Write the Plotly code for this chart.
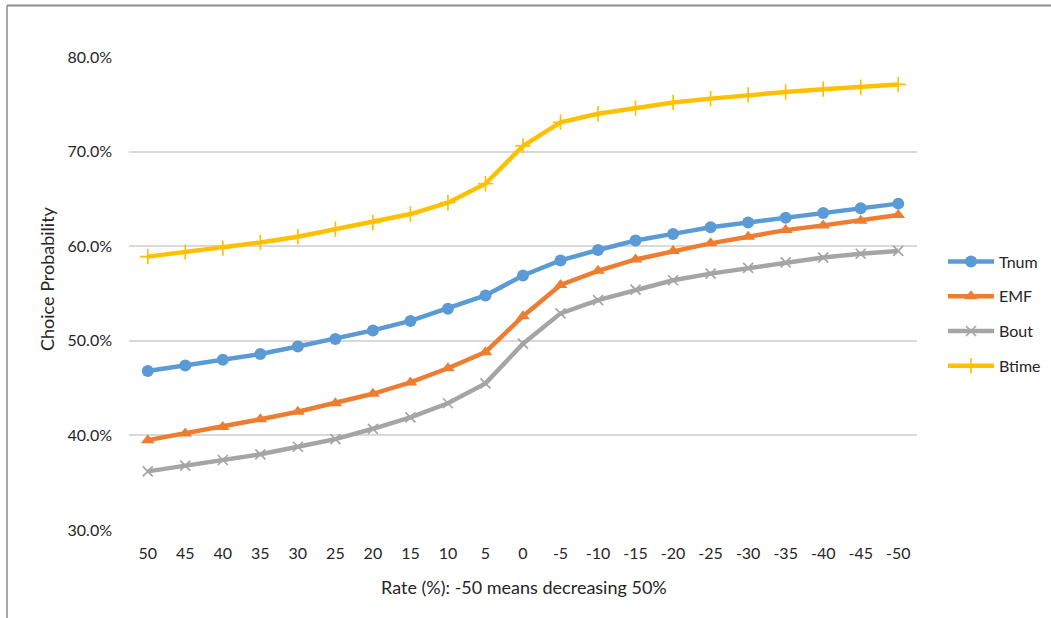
import plotly.graph_objects as go

# Rate change categories (x axis, left to right)
rates = ["50", "45", "40", "35", "30", "25", "20", "15", "10", "5", "0",
         "-5", "-10", "-15", "-20", "-25", "-30", "-35", "-40", "-45", "-50"]

# Choice probability (%) per model
tnum = [46.8, 47.4, 48.0, 48.6, 49.4, 50.2, 51.1, 52.1, 53.4, 54.8, 56.9,
        58.5, 59.6, 60.6, 61.3, 62.0, 62.5, 63.0, 63.5, 64.0, 64.5]
emf = [39.5, 40.2, 40.9, 41.7, 42.5, 43.4, 44.4, 45.6, 47.1, 48.8, 52.6,
       55.9, 57.4, 58.6, 59.5, 60.3, 61.0, 61.7, 62.2, 62.7, 63.3]
bout = [36.2, 36.8, 37.4, 38.0, 38.8, 39.6, 40.7, 41.9, 43.4, 45.5, 49.7,
        52.9, 54.3, 55.4, 56.4, 57.1, 57.7, 58.3, 58.8, 59.2, 59.5]
btime = [58.9, 59.4, 59.8, 60.4, 61.0, 61.8, 62.5, 63.4, 64.6, 66.6, 70.6,
         73.1, 74.0, 74.6, 75.2, 75.6, 76.0, 76.3, 76.6, 76.8, 77.1]

series = [
    ("Tnum", tnum, "#5B9BD5", dict(symbol="circle", size=12)),
    ("EMF", emf, "#ED7D31", dict(symbol="triangle-up", size=12)),
    ("Bout", bout, "#A5A5A5", dict(symbol="x-thin", size=10, line=dict(width=1.7, color="#A5A5A5"))),
    ("Btime", btime, "#FFC000", dict(symbol="cross-thin", size=11, line=dict(width=1.7, color="#FFC000"))),
]

FONT = "Lato, 'Open Sans', sans-serif"
TXT = "#262626"

fig = go.Figure()
for name, vals, color, mk in series:
    fig.add_trace(go.Scatter(
        x=rates, y=vals, name=name, mode="lines+markers",
        line=dict(color=color, width=4.5),
        marker=dict(color=color, **mk),
        legendgroup=name,
    ))

W, H = 1051, 618
L, R, T, B = 129, 134, 57, 88
pw, ph = W - L - R, H - T - B


def px_x(p):
    return (p - L) / pw


def px_y(p):
    return (H - B - p) / ph


fig.update_layout(
    width=W, height=H,
    margin=dict(l=L, r=R, t=T, b=B),
    paper_bgcolor="white", plot_bgcolor="white",
    font=dict(family=FONT, size=16, color=TXT),
    showlegend=True,
    legend=dict(
        xref="container", yref="container",
        x=943 / W, xanchor="left", y=1 - 314 / H, yanchor="middle",
        font=dict(family=FONT, size=16, color=TXT),
        traceorder="grouped", tracegroupgap=11, itemwidth=46,
        bgcolor="rgba(0,0,0,0)",
    ),
    xaxis=dict(
        type="category", range=[-0.5, 20.5],
        showgrid=False, showline=False, zeroline=False,
        ticks="", ticklabelstandoff=12,
        tickfont=dict(family=FONT, size=16, color=TXT),
    ),
    yaxis=dict(
        range=[30, 80], dtick=10, tick0=30,
        tickformat=".1f", ticksuffix="%",
        showgrid=True, gridcolor="#D9D9D9", gridwidth=1.5,
        showline=False, zeroline=False,
        ticks="", ticklabelstandoff=16,
        tickfont=dict(family=FONT, size=16, color=TXT),
    ),
    annotations=[
        dict(text="Rate (%): -50 means decreasing 50%", xref="paper", yref="paper",
             x=px_x(524), y=px_y(587), xanchor="center", yanchor="middle",
             showarrow=False, font=dict(family=FONT, size=18, color=TXT)),
        dict(text="Choice Probability", xref="paper", yref="paper",
             x=px_x(47), y=px_y(279), xanchor="center", yanchor="middle",
             textangle=-90, showarrow=False, font=dict(family=FONT, size=18, color=TXT)),
    ],
    shapes=[
        dict(type="line", xref="paper", yref="paper",
             x0=px_x(7), x1=px_x(W + 2), y0=px_y(5.5), y1=px_y(5.5),
             line=dict(color="#8C8C8C", width=2)),
        dict(type="line", xref="paper", yref="paper",
             x0=px_x(7), x1=px_x(7), y0=px_y(5.5), y1=px_y(H + 2),
             line=dict(color="#8C8C8C", width=1.5)),
    ],
)

fig.write_html("out.html")
